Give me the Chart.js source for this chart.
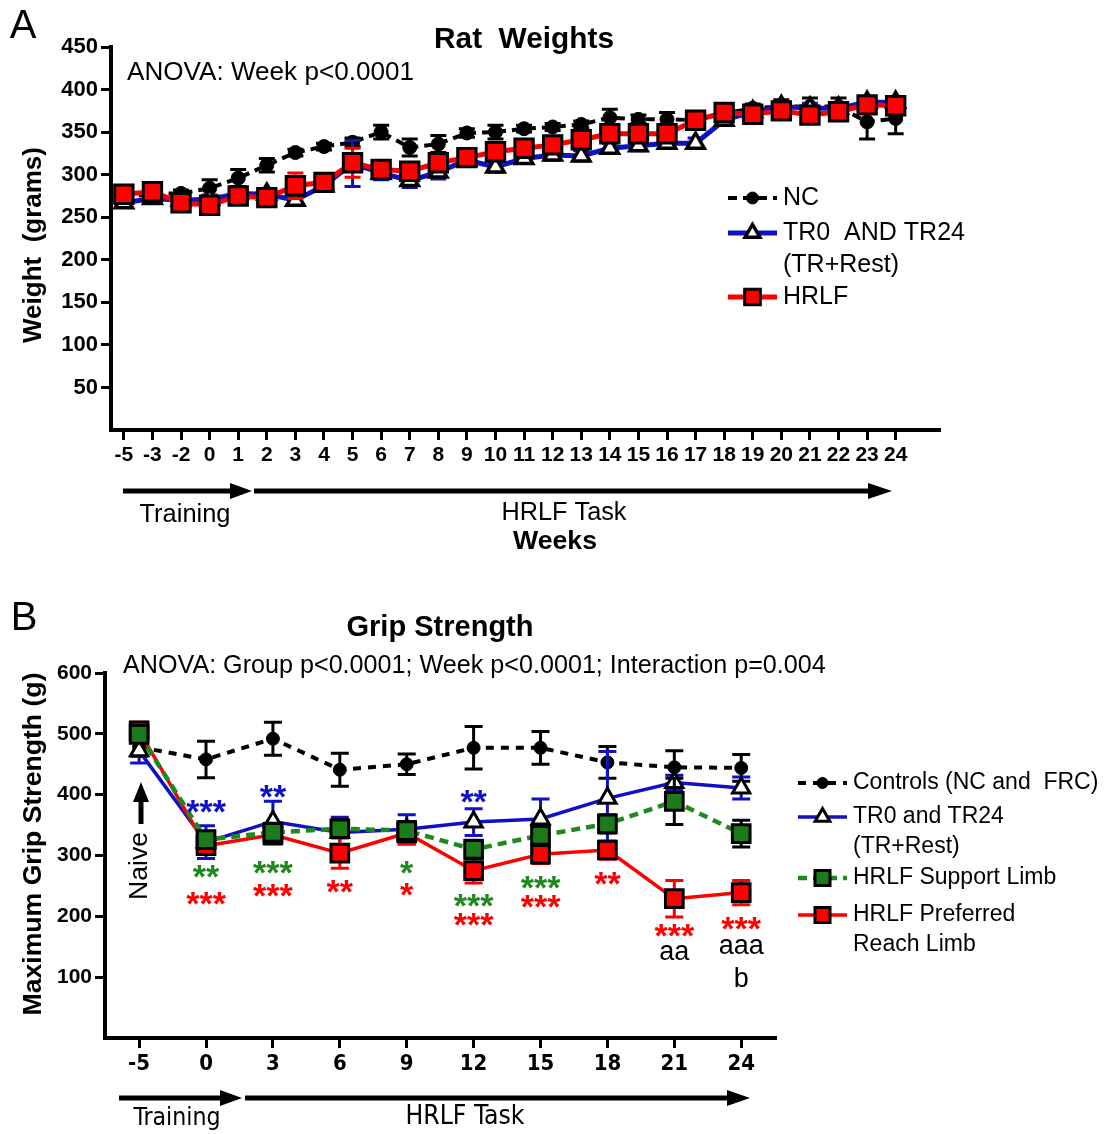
<!DOCTYPE html>
<html>
<head>
<meta charset="utf-8">
<script src="https://cdn.jsdelivr.net/npm/chart.js@4.4.1/dist/chart.umd.min.js"></script>
<style>
html,body{margin:0;padding:0;background:#fff}
#wrap{position:relative;width:1116px;height:1134px}
canvas{position:absolute;left:0;top:0}
</style>
</head>
<body>
<div id="wrap">
<canvas id="chartA" width="1116" height="1134"></canvas>
<canvas id="chartB" width="1116" height="1134"></canvas>
</div>
<script>
// ---- panel A: rat weights ----
const weeksA = ['-5','-3','-2','0','1','2','3','4','5','6','7','8','9','10','11','12','13','14','15','16','17','18','19','20','21','22','23','24']
const ncWeight = [273,278,278,284,296,311,326,333,338,350,332,336,349,350,354,356,359,367,365,365,364,372,378,380,380,380,362,366]
const ncWeightSem = [4,4,4,10,10,8,4,4,5,8,10,10,5,8,4,4,4,10,5,8,5,5,5,8,10,10,20,18]
const trWeight = [267,272,270,271,278,277,270,287,313,302,293,303,317,309,319,323,322,331,334,337,337,364,374,380,378,378,385,385]
const trWeightSem = [5,5,5,5,6,6,6,6,27,8,8,8,6,6,6,6,6,6,6,6,6,6,6,6,6,6,6,6]
const hrlfWeight = [277,280,267,264,275,273,287,291,314,306,304,314,320,327,331,335,341,348,348,348,364,373,371,375,370,374,382,381]
const hrlfWeightSem = [7,8,9,10,8,8,15,8,17,10,10,10,10,10,8,8,8,8,8,8,5,6,6,8,10,8,7,8]
const weightTicks = [50,100,150,200,250,300,350,400,450]

// ---- panel B: grip strength ----
const weeksB = ['-5','0','3','6','9','12','15','18','21','24']
const controlGrip = [478,458,492,441,450,477,477,453,445,444]
const controlGripSem = [15,30,27,27,17,35,27,26,27,22]
const trGrip = [472,322,356,338,343,355,360,394,420,411]
const trGripSem = [20,27,33,25,24,22,33,77,12,18]
const supportGrip = [499,326,338,344,341,310,333,352,389,336]
const supportGripSem = [12,12,15,15,15,15,15,15,38,22]
const prefGrip = [505,316,334,304,337,275,302,309,229,239]
const prefGripSem = [14,12,15,25,18,20,15,15,30,20]
const gripTicks = [100,200,300,400,500,600]

// significance marks: [week index, grip value, text]
const blueStars = [[1,385,'***'],[2,409,'**'],[5,401,'**']]
const greenStars = [[1,278,'**'],[2,284,'***'],[4,284,'*'],[5,230,'***'],[6,260,'***']]
const redStars = [[1,233,'***'],[2,247,'***'],[3,253,'**'],[4,248,'*'],[5,199,'***'],[6,228,'***'],[7,266,'**'],[8,181,'***'],[9,192,'***']]
const letterMarks = [[8,140,'aa'],[9,150,'aaa'],[9,100,'b']]

const SANS = "'Liberation Sans', Arial, sans-serif"
const NARROW = "'Liberation Sans Narrow', 'DejaVu Sans Condensed', 'Liberation Sans', sans-serif"
const BLUE = '#1010c4'
const GREEN = '#1e8a1e'
const RED = '#ff0000'

const xy = vals => vals.map((v, i) => ({x: i, y: v}))

function put(ctx, str, x, y, size, opt = {}) {
  ctx.save()
  ctx.font = (opt.weight || 'normal') + ' ' + size + 'px ' + (opt.family || SANS)
  ctx.fillStyle = opt.color || '#000'
  ctx.textAlign = opt.align || 'left'
  ctx.textBaseline = opt.baseline || 'middle'
  ctx.translate(x, y)
  if (opt.rotate) ctx.rotate(opt.rotate)
  ctx.fillText(str, 0, 0)
  ctx.restore()
}

// font size that makes str exactly `width` px wide
function putFit(ctx, str, x, y, width, opt = {}) {
  ctx.save()
  ctx.font = (opt.weight || 'normal') + ' 100px ' + (opt.family || SANS)
  const size = 100 * width / ctx.measureText(str).width
  ctx.restore()
  put(ctx, str, x, y, size.toFixed(2), opt)
}

function arrowH(ctx, x1, x2, y, head, half, lw) {
  ctx.save()
  ctx.strokeStyle = '#000'; ctx.fillStyle = '#000'; ctx.lineWidth = lw
  ctx.beginPath(); ctx.moveTo(x1, y); ctx.lineTo(x2 - head + 1, y); ctx.stroke()
  ctx.beginPath(); ctx.moveTo(x2, y); ctx.lineTo(x2 - head, y - half); ctx.lineTo(x2 - head, y + half); ctx.closePath(); ctx.fill()
  ctx.restore()
}

function arrowUp(ctx, x, y1, y2, head, half, lw) {
  ctx.save()
  ctx.strokeStyle = '#000'; ctx.fillStyle = '#000'; ctx.lineWidth = lw
  ctx.beginPath(); ctx.moveTo(x, y1); ctx.lineTo(x, y2 + head - 1); ctx.stroke()
  ctx.beginPath(); ctx.moveTo(x, y2); ctx.lineTo(x - half, y2 + head); ctx.lineTo(x + half, y2 + head); ctx.closePath(); ctx.fill()
  ctx.restore()
}

function marker(ctx, style, x, y, r, fill, stroke, lw) {
  ctx.save()
  ctx.fillStyle = fill; ctx.strokeStyle = stroke; ctx.lineWidth = lw; ctx.setLineDash([])
  ctx.beginPath()
  if (style === 'circle') {
    ctx.arc(x, y, r, 0, Math.PI * 2)
  } else if (style === 'triangle') {
    ctx.moveTo(x, y - r); ctx.lineTo(x + r * 0.866, y + r / 2); ctx.lineTo(x - r * 0.866, y + r / 2); ctx.closePath()
  } else {
    const s = r * Math.SQRT1_2
    ctx.rect(x - s, y - s, 2 * s, 2 * s)
  }
  ctx.fill()
  if (lw) ctx.stroke()
  ctx.restore()
}

// legend drawn from the datasets' own styles
function legend(ctx, datasets, x1, x2, rows, size, lineGap) {
  datasets.forEach((ds, i) => {
    const y = rows[i]
    ctx.save()
    ctx.strokeStyle = ds.borderColor; ctx.lineWidth = ds.borderWidth; ctx.setLineDash(ds.borderDash || [])
    ctx.beginPath(); ctx.moveTo(x1, y); ctx.lineTo(x2, y); ctx.stroke()
    ctx.restore()
    marker(ctx, ds.pointStyle, (x1 + x2) / 2, y, ds.pointRadius * 0.85, ds.pointBackgroundColor, ds.pointBorderColor, ds.pointBorderWidth)
    ds.label.split('\n').forEach((line, k) => put(ctx, line, x2 + 6, y + k * lineGap, size))
  })
}

const errorBars = {
  id: 'errorBars',
  beforeDatasetDraw(chart, args) {
    const ds = chart.data.datasets[args.index]
    if (!ds.errors) return
    const xs = chart.scales.x, ys = chart.scales.y, ctx = chart.ctx
    ctx.save()
    ctx.strokeStyle = ds.errColor
    ctx.lineWidth = ds.errWidth
    ctx.setLineDash([])
    ds.data.forEach((p, i) => {
      const px = xs.getPixelForValue(p.x)
      const hi = ys.getPixelForValue(p.y + ds.errors[i])
      const lo = ys.getPixelForValue(p.y - ds.errors[i])
      ctx.beginPath()
      ctx.moveTo(px, hi); ctx.lineTo(px, lo)
      ctx.moveTo(px - ds.capHalf, hi); ctx.lineTo(px + ds.capHalf, hi)
      ctx.moveTo(px - ds.capHalf, lo); ctx.lineTo(px + ds.capHalf, lo)
      ctx.stroke()
    })
    ctx.restore()
  }
}

function axes(o) {
  return {
    x: {
      type: 'linear', min: o.xmin, max: o.xmax,
      afterFit: s => { s.height = o.xh },
      afterBuildTicks: s => { s.ticks = o.labels.map((w, i) => ({value: i})) },
      ticks: {autoSkip: false, maxRotation: 0, minRotation: 0, padding: 3, color: '#000',
        font: o.xfont, callback: v => o.labels[v]},
      grid: {drawOnChartArea: false, tickLength: 10, tickWidth: 3, color: '#000'},
      border: {color: '#000', width: 4}
    },
    y: {
      min: 0, max: o.ymax,
      afterFit: s => { s.width = o.yw },
      afterBuildTicks: s => { s.ticks = o.yticks.map(v => ({value: v})) },
      ticks: {padding: 3, color: '#000', font: o.yfont},
      grid: {drawOnChartArea: false, tickLength: 10, tickWidth: 3, color: '#000'},
      border: {color: '#000', width: 4}
    }
  }
}

const panelA = {
  id: 'panelA',
  afterDraw(chart) {
    const ctx = chart.ctx
    put(ctx, 'A', 23, 27, 40, {align: 'center'})
    putFit(ctx, 'Rat  Weights', 524, 40, 180, {weight: 'bold', align: 'center'})
    putFit(ctx, 'ANOVA: Week p<0.0001', 127, 73, 287)
    putFit(ctx, 'Weight  (grams)', 34, 245, 196, {weight: 'bold', align: 'center', rotate: -Math.PI / 2})
    legend(ctx, chart.data.datasets, 728, 777, [198, 233, 297], 25, 32)
    arrowH(ctx, 123, 252, 491, 22, 8, 5)
    arrowH(ctx, 254, 892, 491, 24, 8, 5)
    putFit(ctx, 'Training', 185, 515, 91, {align: 'center'})
    putFit(ctx, 'HRLF Task', 564, 513, 125, {align: 'center'})
    putFit(ctx, 'Weeks', 555, 542, 84, {weight: 'bold', align: 'center'})
  }
}

function marks(chart, list, color, weight, size) {
  const ctx = chart.ctx, xs = chart.scales.x, ys = chart.scales.y
  list.forEach(([w, v, t]) => {
    const mid = t.includes('*') ? 0.56 : (t === 'b' ? 0.36 : 0.27)
    put(ctx, t, xs.getPixelForValue(w), ys.getPixelForValue(v) + mid * size, size,
      {align: 'center', baseline: 'alphabetic', color: color, weight: weight})
  })
}

const panelB = {
  id: 'panelB',
  afterDatasetsDraw(chart) {
    marks(chart, blueStars, BLUE, 'bold', 34)
    marks(chart, greenStars, GREEN, 'bold', 34)
    marks(chart, redStars, RED, 'bold', 34)
    marks(chart, letterMarks, '#000', 'normal', 27)
  },
  afterDraw(chart) {
    const ctx = chart.ctx
    put(ctx, 'B', 24, 619, 40, {align: 'center'})
    putFit(ctx, 'Grip Strength', 440, 628, 187, {weight: 'bold', align: 'center'})
    putFit(ctx, 'ANOVA: Group p<0.0001; Week p<0.0001; Interaction p=0.004', 123, 666, 703)
    putFit(ctx, 'Maximum Grip Strength (g)', 34, 844, 343, {weight: 'bold', align: 'center', rotate: -Math.PI / 2})
    legend(ctx, chart.data.datasets.slice().sort((a, b) => a.legendRow - b.legendRow), 798, 847, [783, 817, 878, 915], 23, 30)
    arrowUp(ctx, 141, 824, 782, 20, 8, 5)
    putFit(ctx, 'Naive', 140, 866, 68, {align: 'center', rotate: -Math.PI / 2})
    arrowH(ctx, 119, 242, 1098, 22, 8, 5)
    arrowH(ctx, 245, 750, 1098, 23, 8, 5)
    putFit(ctx, 'Training', 177, 1119, 87, {align: 'center', family: NARROW})
    putFit(ctx, 'HRLF Task', 465, 1117, 119, {align: 'center', family: NARROW})
  }
}

new Chart(document.getElementById('chartA'), {
  type: 'line',
  data: {
    datasets: [
      {label: 'NC', data: xy(ncWeight), errors: ncWeightSem, errColor: '#000', errWidth: 3, capHalf: 8,
        borderColor: '#000', borderWidth: 4, borderDash: [9, 6],
        pointStyle: 'circle', pointRadius: 7, pointBackgroundColor: '#000', pointBorderColor: '#000', pointBorderWidth: 1, order: 3},
      {label: 'TR0  AND TR24\n(TR+Rest)', data: xy(trWeight), errors: trWeightSem, errColor: BLUE, errWidth: 3, capHalf: 8,
        borderColor: BLUE, borderWidth: 5,
        pointStyle: 'triangle', pointRadius: 10, pointBackgroundColor: '#fff', pointBorderColor: '#000', pointBorderWidth: 3.5, order: 2},
      {label: 'HRLF', data: xy(hrlfWeight), errors: hrlfWeightSem, errColor: RED, errWidth: 3, capHalf: 8,
        borderColor: RED, borderWidth: 5,
        pointStyle: 'rect', pointRadius: 13, pointBackgroundColor: RED, pointBorderColor: '#000', pointBorderWidth: 3, order: 1}
    ]
  },
  options: {
    responsive: false, animation: false, events: [],
    clip: false,
    elements: {line: {tension: 0}},
    layout: {padding: {left: 0, top: 47, right: 1116 - 940, bottom: 1134 - 430 - 40}},
    plugins: {legend: {display: false}, tooltip: {enabled: false}},
    scales: axes({xmin: -0.45, xmax: 28.55, xh: 40, labels: weeksA, ymax: 450, yw: 111, yticks: weightTicks,
      xfont: {family: SANS, size: 21, weight: 'bold'}, yfont: {family: SANS, size: 22, weight: 'bold'}})
  },
  plugins: [errorBars, panelA]
})

new Chart(document.getElementById('chartB'), {
  type: 'line',
  data: {
    datasets: [
      {label: 'Controls (NC and  FRC)', legendRow: 0, data: xy(controlGrip), errors: controlGripSem, errColor: '#000', errWidth: 3, capHalf: 9,
        borderColor: '#000', borderWidth: 4, borderDash: [8, 7],
        pointStyle: 'circle', pointRadius: 6.5, pointBackgroundColor: '#000', pointBorderColor: '#000', pointBorderWidth: 1, order: 4},
      {label: 'TR0 and TR24\n(TR+Rest)', legendRow: 1, data: xy(trGrip), errors: trGripSem, errColor: BLUE, errWidth: 3, capHalf: 9,
        borderColor: BLUE, borderWidth: 3.5,
        pointStyle: 'triangle', pointRadius: 10, pointBackgroundColor: '#fff', pointBorderColor: '#000', pointBorderWidth: 3, order: 3},
      {label: 'HRLF Preferred\nReach Limb', legendRow: 3, data: xy(prefGrip), errors: prefGripSem, errColor: RED, errWidth: 3, capHalf: 9,
        borderColor: RED, borderWidth: 3.5,
        pointStyle: 'rect', pointRadius: 12.5, pointBackgroundColor: RED, pointBorderColor: '#000', pointBorderWidth: 3, order: 2},
      {label: 'HRLF Support Limb', legendRow: 2, data: xy(supportGrip), errors: supportGripSem, errColor: '#000', errWidth: 3, capHalf: 9,
        borderColor: GREEN, borderWidth: 4.5, borderDash: [9, 6],
        pointStyle: 'rect', pointRadius: 12.5, pointBackgroundColor: '#1b7a1b', pointBorderColor: '#000', pointBorderWidth: 3, order: 1}
    ]
  },
  options: {
    responsive: false, animation: false, events: [],
    clip: false,
    elements: {line: {tension: 0}},
    layout: {padding: {left: 0, top: 673, right: 1116 - 776, bottom: 1134 - 1038 - 45}},
    plugins: {legend: {display: false}, tooltip: {enabled: false}},
    scales: axes({xmin: -0.51, xmax: 9.52, xh: 45, labels: weeksB, ymax: 600, yw: 105, yticks: gripTicks,
      xfont: {family: NARROW, size: 22, weight: 'bold'}, yfont: {family: SANS, size: 21, weight: 'bold'}})
  },
  plugins: [errorBars, panelB]
})
</script>
</body>
</html>
